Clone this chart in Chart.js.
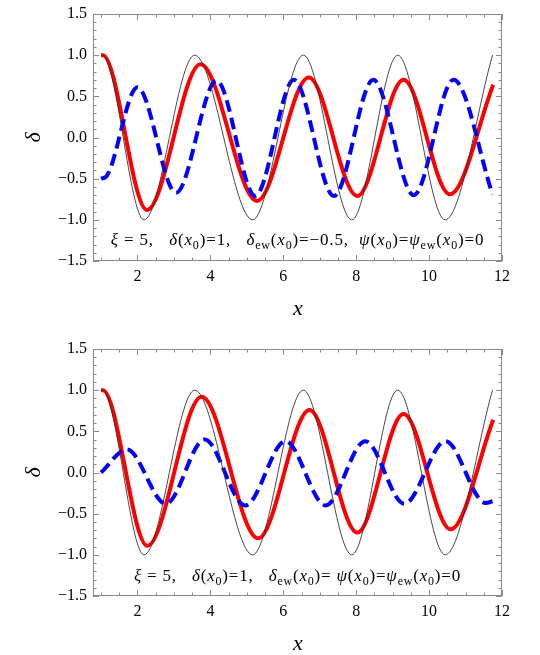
<!DOCTYPE html>
<html>
<head>
<meta charset="utf-8">
<script src="https://cdn.jsdelivr.net/npm/chart.js@4.4.0/dist/chart.umd.min.js"></script>
<style>
  body { margin: 0; background: #fff; overflow: hidden; }
  #wrap { position: relative; width: 540px; height: 655px; }
  canvas { position: absolute; left: 0; }
  #top { top: 0; }
  #bottom { top: 335px; }
</style>
</head>
<body>
<div id="wrap">
  <canvas id="top" width="540" height="325"></canvas>
  <canvas id="bottom" width="540" height="320"></canvas>
</div>
<script>
// Values (peaks, troughs and end points of each curve)
const blackX = [1.00, 1.04, 2.18, 3.57, 5.16, 6.55, 7.88, 9.14, 10.44, 11.74];
const blackY = [1.00, 1.00, -1.00, 1.00, -1.00, 1.00, -1.00, 1.00, -1.00, 1.00];

const redTopX = [1.00, 1.05, 2.26, 3.73, 5.28, 6.70, 8.03, 9.30, 10.57, 11.76];
const redTopY = [1.00, 1.00, -0.88, 0.89, -0.77, 0.73, -0.71, 0.70, -0.69, 0.64];

const blueTopX = [1.00, 1.15, 2.00, 3.06, 4.17, 5.23, 6.29, 7.39, 8.47, 9.58, 10.67, 11.74];
const blueTopY = [-0.50, -0.47, 0.61, -0.67, 0.69, -0.71, 0.70, -0.71, 0.70, -0.70, 0.70, -0.69];

const redBotX = [1.00, 1.05, 2.27, 3.76, 5.31, 6.72, 8.03, 9.30, 10.59, 11.76];
const redBotY = [1.00, 1.00, -0.89, 0.92, -0.80, 0.76, -0.73, 0.71, -0.69, 0.64];

const blueBotX = [1.00, 1.71, 2.78, 3.84, 4.96, 6.06, 7.16, 8.25, 9.32, 10.45, 11.55, 11.74];
const blueBotY = [0.00, 0.28, -0.38, 0.40, -0.40, 0.38, -0.40, 0.38, -0.38, 0.38, -0.37, -0.35];

const xTicks = [2, 4, 6, 8, 10, 12];
const yTicks = [-1.5, -1.0, -0.5, 0.0, 0.5, 1.0, 1.5];
const yTickLabels = ['\u22121.5', '\u22121.0', '\u22120.5', '0.0', '0.5', '1.0', '1.5'];

const SERIF = '"Liberation Serif", "DejaVu Serif", serif';

// notes: [text, style]  i = italic, r = roman, s = subscript
const topNote = [['\u03be','i'],[' = 5,   ','r'],['\u03b4','i'],['(','r'],['x','i'],['0','s'],[')=1,   ','r'],
  ['\u03b4','i'],['ew','s'],['(','r'],['x','i'],['0','s'],[')=\u22120.5,  ','r'],
  ['\u03c8','i'],['(','r'],['x','i'],['0','s'],[')=','r'],['\u03c8','i'],['ew','s'],['(','r'],['x','i'],['0','s'],[')=0','r']];
const bottomNote = [['\u03be','i'],[' = 5,   ','r'],['\u03b4','i'],['(','r'],['x','i'],['0','s'],[')=1,   ','r'],
  ['\u03b4','i'],['ew','s'],['(','r'],['x','i'],['0','s'],[')= ','r'],
  ['\u03c8','i'],['(','r'],['x','i'],['0','s'],[')=','r'],['\u03c8','i'],['ew','s'],['(','r'],['x','i'],['0','s'],[')=0','r']];

function pts(xs, ys) {
    return xs.map((x, i) => ({ x: x, y: ys[i] }));
}

function fontFor(s) {
    if (s === 's') return '12px ' + SERIF;
    return (s === 'i' ? 'italic ' : '') + '17px ' + SERIF;
}

// draw the parameter line char by char, with a little extra spacing, centred on cx
function drawNote(ctx, cx, y, parts, ls) {
    let w = 0;
    parts.forEach(([t, s]) => {
        ctx.font = fontFor(s);
        for (const ch of t) w += ctx.measureText(ch).width + ls;
    });
    let x = cx - w / 2;
    ctx.fillStyle = '#000';
    ctx.textAlign = 'left';
    ctx.textBaseline = 'alphabetic';
    parts.forEach(([t, s]) => {
        ctx.font = fontFor(s);
        for (const ch of t) {
            ctx.fillText(ch, x, s === 's' ? y + 4 : y);
            x += ctx.measureText(ch).width + ls;
        }
    });
}

// Frame with inward major/minor ticks, like the original plot
const framePlugin = {
    id: 'frame',
    afterDraw(chart) {
        const { ctx, chartArea: a, scales } = chart;
        const sx = scales.x, sy = scales.y;
        ctx.save();
        ctx.strokeStyle = '#8a8a8a';
        ctx.lineWidth = 1;
        ctx.strokeRect(a.left + 0.5, a.top + 0.5, a.right - a.left - 1, a.bottom - a.top - 1);
        ctx.beginPath();
        for (let v = 1; v <= 12.001; v += 0.5) {
            const px = Math.round(sx.getPixelForValue(v)) + 0.5;
            const len = Math.abs(v % 2) < 0.01 ? 6 : 3.5;
            ctx.moveTo(px, a.bottom);
            ctx.lineTo(px, a.bottom - len);
            ctx.moveTo(px, a.top);
            ctx.lineTo(px, a.top + len);
        }
        for (let k = -15; k <= 15; k++) {
            const py = Math.round(sy.getPixelForValue(k / 10)) + 0.5;
            const len = k % 5 === 0 ? 6 : 3.5;
            ctx.moveTo(a.left, py);
            ctx.lineTo(a.left + len, py);
            ctx.moveTo(a.right, py);
            ctx.lineTo(a.right - len, py);
        }
        ctx.stroke();
        ctx.restore();
    }
};

const labelPlugin = {
    id: 'labels',
    afterDraw(chart, args, opts) {
        const { ctx, chartArea: a } = chart;
        ctx.save();
        ctx.fillStyle = '#000';
        // y axis title, rotated
        ctx.font = 'italic 22px ' + SERIF;
        ctx.textAlign = 'center';
        ctx.textBaseline = 'middle';
        ctx.translate(34, (a.top + a.bottom) / 2);
        ctx.rotate(-Math.PI / 2);
        ctx.fillText('\u03b4', 0, 0);
        ctx.setTransform(1, 0, 0, 1, 0, 0);
        // x axis title
        ctx.textBaseline = 'alphabetic';
        ctx.fillText('x', 298, a.bottom + 54);
        drawNote(ctx, (a.left + a.right) / 2, opts.noteY, opts.note, opts.spacing);
        ctx.restore();
    }
};

function makePanel(id, redX, redY, blueX, blueY, note, spacing, noteY, axisH) {
    return new Chart(document.getElementById(id), {
        type: 'line',
        data: {
            datasets: [
                { data: pts(blackX, blackY), borderColor: '#333', borderWidth: 0.9, order: 0 },
                { data: pts(blueX, blueY), borderColor: '#0000ff', borderWidth: 4, borderDash: [12, 6], order: 1 },
                { data: pts(redX, redY), borderColor: '#ff0000', borderWidth: 4, order: 2 }
            ]
        },
        options: {
            responsive: false,
            animation: false,
            devicePixelRatio: 1,
            layout: { padding: { left: 0, right: 38, top: 9, bottom: 0 } },
            elements: {
                point: { radius: 0 },
                line: { cubicInterpolationMode: 'monotone', fill: false, borderCapStyle: 'butt' }
            },
            plugins: {
                legend: { display: false },
                tooltip: { enabled: false },
                labels: { note: note, spacing: spacing, noteY: noteY }
            },
            scales: {
                x: {
                    type: 'linear',
                    min: 0.78,
                    max: 12,
                    grid: { display: false, drawTicks: false },
                    border: { display: false },
                    afterBuildTicks: s => { s.ticks = xTicks.map(v => ({ value: v })); },
                    afterFit: s => { s.height = axisH; },
                    ticks: {
                        color: '#000',
                        padding: 8,
                        maxRotation: 0,
                        autoSkip: false,
                        font: { family: SERIF, size: 16, lineHeight: 1 },
                        callback: v => String(v)
                    }
                },
                y: {
                    min: -1.5,
                    max: 1.5,
                    grid: { display: false, drawTicks: false },
                    border: { display: false },
                    afterBuildTicks: s => { s.ticks = yTicks.map(v => ({ value: v })); },
                    afterFit: s => { s.width = 93; },
                    ticks: {
                        color: '#000',
                        padding: 6,
                        autoSkip: false,
                        font: { family: SERIF, size: 16, lineHeight: 1 },
                        callback: (v, i) => yTickLabels[i]
                    }
                }
            }
        },
        plugins: [framePlugin, labelPlugin]
    });
}

makePanel('top', redTopX, redTopY, blueTopX, blueTopY, topNote, 0.85, 245, 64);
makePanel('bottom', redBotX, redBotY, blueBotX, blueBotY, bottomNote, 0.8, 246, 59);
</script>
</body>
</html>
